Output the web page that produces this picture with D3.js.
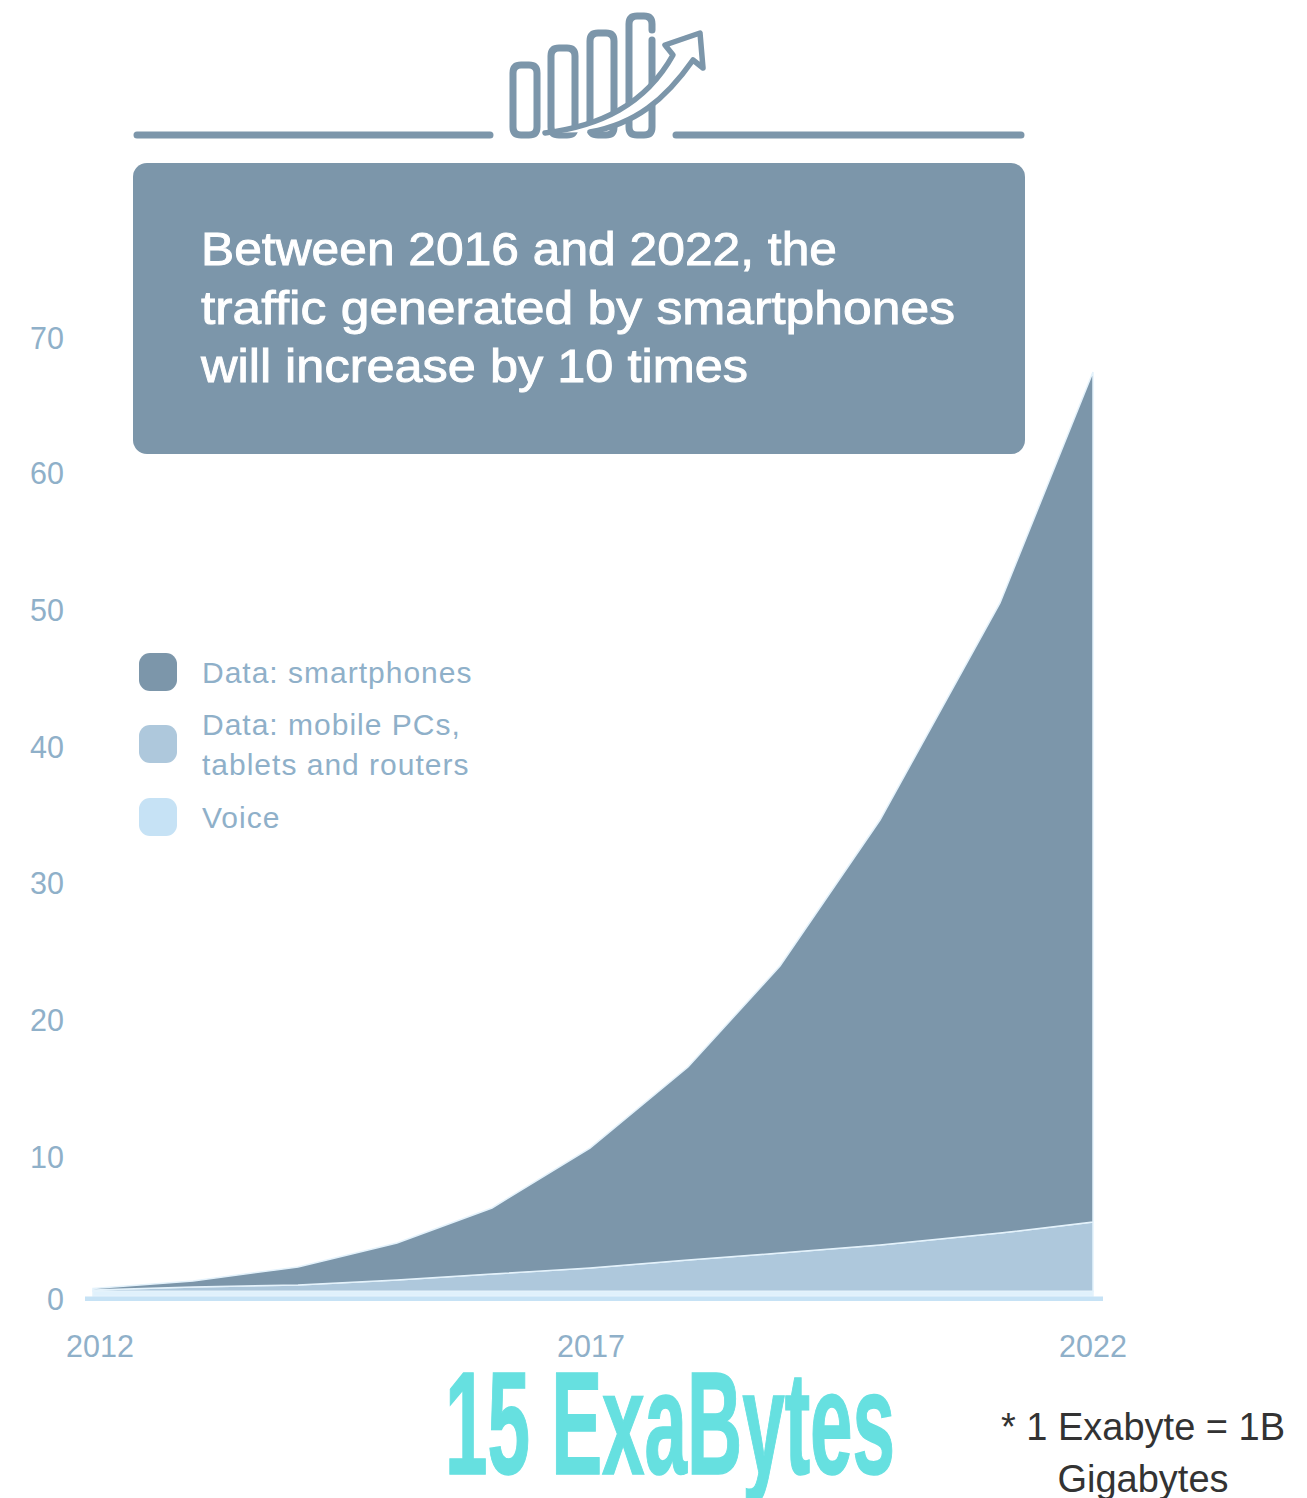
<!DOCTYPE html>
<html>
<head>
<meta charset="utf-8">
<script src="https://cdn.jsdelivr.net/npm/d3@7"></script>
<style>
  html, body { margin: 0; padding: 0; background: #fff; }
  text { font-family: "Liberation Sans", sans-serif; }
</style>
</head>
<body>
<div id="chart"></div>
<script>
// values, in exabytes per month
var years = [2012, 2013, 2014.05, 2015.04, 2015.99, 2016.97, 2017.95, 2018.87, 2019.87, 2021.07, 2022]
var voice = [0.35, 0.35, 0.35, 0.35, 0.35, 0.35, 0.35, 0.35, 0.35, 0.35, 0.35]
var mobile = [0.09, 0.31, 0.45, 0.82, 1.25, 1.7, 2.28, 2.79, 3.38, 4.25, 5.05]
var smartphones = [0.11, 0.44, 1.32, 2.7, 4.83, 8.76, 14.1, 20.97, 31.05, 46.04, 62.11]

var yTicks = [0, 10, 20, 30, 40, 50, 60, 70]
var xTicks = [2012, 2017, 2022]
var legendRows = [
    {name: "Data: smartphones", lines: ["Data: smartphones"], color: "#7c96aa"},
    {name: "Data: mobile PCs", lines: ["Data: mobile PCs,", "tablets and routers"], color: "#aec8dc"},
    {name: "Voice", lines: ["Voice"], color: "#c6e2f5"}
]
var headline = ["Between 2016 and 2022, the", "traffic generated by smartphones", "will increase by 10 times"]
var headlineWidths = [636, 754, 547]
var footnote = ["* 1 Exabyte = 1B", "Gigabytes"]

var width = 1307, height = 1498
var slate = "#7c96aa", tickColor = "#8fb0c9"

var svg = d3.select("#chart").append("svg").attr("width", width).attr("height", height).style("display", "block")

var x = d3.scaleLinear().domain([2012, 2022]).range([93, 1093])
var y = d3.scaleLinear().domain([0, 70]).range([1296, 338])

// stacked areas, voice at the bottom
var table = years.map(function (d, i) {
    return {year: d, voice: voice[i], mobile: mobile[i], smartphones: smartphones[i]}
})
var stack = d3.stack().keys(["voice", "mobile", "smartphones"])
var layers = stack(table)
var layerColor = {voice: "#e0f1fc", mobile: "#aec8dc", smartphones: slate}
var area = d3.area().x(d => x(d.data.year)).y0(d => y(d[0])).y1(d => y(d[1]))

svg.selectAll("path.layer").data(layers).enter().append("path")
    .attr("class", "layer")
    .attr("d", area)
    .style("fill", d => layerColor[d.key])
    .style("stroke", "#e4f2fb")
    .style("stroke-width", 1.5)

// baseline
svg.append("rect").attr("x", 85).attr("y", 1296.5).attr("width", 1018).attr("height", 4.5).style("fill", "#c6e2f5")

// y labels, the zero sits a little under the baseline
svg.selectAll("text.ytick").data(yTicks).enter().append("text")
    .attr("class", "ytick")
    .attr("x", 64)
    .attr("y", d => y(d) + (d == 0 ? 13.5 : d == 70 ? 10.5 : 9))
    .attr("text-anchor", "end")
    .style("font-size", "30.5px")
    .style("fill", tickColor)
    .text(d => d)

// x labels
svg.selectAll("text.xtick").data(xTicks).enter().append("text")
    .attr("class", "xtick")
    .attr("x", d => x(d) + (d == 2012 ? 7 : d == 2017 ? -2 : 0))
    .attr("y", 1357)
    .attr("text-anchor", "middle")
    .style("font-size", "30.5px")
    .style("fill", tickColor)
    .text(d => d)

// legend
var legendTop = [672, 744, 817]
legendRows.forEach(function (row, i) {
    svg.append("rect").attr("x", 139).attr("y", legendTop[i] - 19).attr("width", 38).attr("height", 38).attr("rx", 11)
        .style("fill", row.color)
    row.lines.forEach(function (line, j) {
        svg.append("text")
            .attr("x", 202)
            .attr("y", legendTop[i] + 11 + (j - (row.lines.length - 1) / 2) * 40)
            .style("font-size", "30px")
            .style("letter-spacing", "1px")
            .style("fill", tickColor)
            .text(line)
    })
})

// headline box, drawn over the chart
svg.append("rect").attr("x", 133).attr("y", 163).attr("width", 892).attr("height", 291).attr("rx", 14).style("fill", slate)
headline.forEach(function (line, i) {
    svg.append("text")
        .attr("x", 201)
        .attr("y", 265 + i * 58.5)
        .attr("textLength", headlineWidths[i])
        .attr("lengthAdjust", "spacingAndGlyphs")
        .style("font-size", "46.5px")
        .style("fill", "#fff")
        .style("stroke", "#fff")
        .style("stroke-width", 0.9)
        .text(line)
})

// rule and icon on top of the box
var icon = svg.append("g").style("fill", "none").style("stroke", slate).style("stroke-width", 7).style("stroke-linejoin", "round").style("stroke-linecap", "round")
icon.append("path").attr("d", "M137 135H490M676 135H1021")
var bars = [[513, 65, 537], [551, 48, 575], [590, 33, 614]]
bars.forEach(function (b) {
    icon.append("path").attr("d", "M" + b[0] + " 127V" + (b[1] + 8) + "Q" + b[0] + " " + b[1] + " " + (b[0] + 8) + " " + b[1] + "H" + (b[2] - 8) + "Q" + b[2] + " " + b[1] + " " + b[2] + " " + (b[1] + 8) + "V127Q" + b[2] + " 135 " + (b[2] - 8) + " 135H" + (b[0] + 8) + "Q" + b[0] + " 135 " + b[0] + " 127")
})
// last bar has a small gap on its right edge
icon.append("path").attr("d", "M652 30V24Q652 16 644 16H637Q629 16 629 24V127Q629 135 637 135H644Q652 135 652 127V40")
icon.append("path").attr("d", "M545 133C600 126 645 105 673 55L665 45L700 33L703 68L693 60C665 100 635 124 590 132")
    .style("stroke-width", 5.5).style("fill", "#fff")

// big number and note
svg.append("text")
    .attr("x", 445).attr("y", 1474)
    .attr("textLength", 450).attr("lengthAdjust", "spacingAndGlyphs")
    .style("font-size", "146px")
    .style("font-family", "'Liberation Sans Narrow', 'Liberation Sans', sans-serif")
    .style("font-weight", "bold")
    .style("fill", "#66e0e0")
    .style("stroke", "#66e0e0")
    .style("stroke-width", 1.5)
    .text("15 ExaBytes")

svg.selectAll("text.note").data(footnote).enter().append("text")
    .attr("class", "note")
    .attr("x", 1143)
    .attr("y", (d, i) => 1440 + i * 52)
    .attr("text-anchor", "middle")
    .style("font-size", "38px")
    .style("fill", "#333")
    .text(d => d)
</script>
</body>
</html>
